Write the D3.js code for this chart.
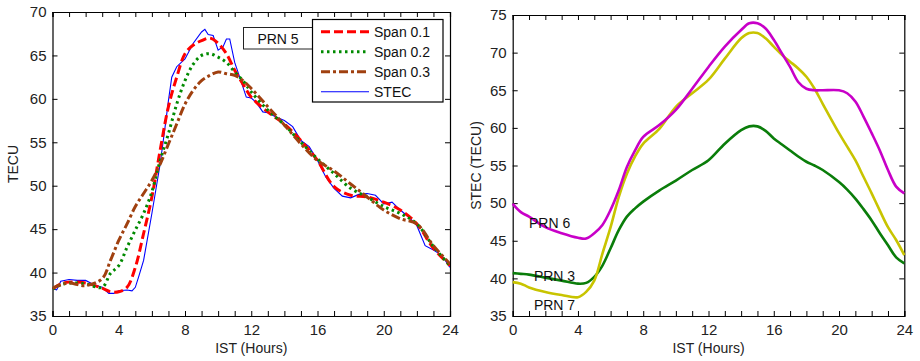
<!DOCTYPE html>
<html><head><meta charset="utf-8">
<script src="https://cdn.jsdelivr.net/npm/d3@7"></script>
<style>
body{margin:0;background:#fff;}
svg{display:block;font-family:"Liberation Sans",Arial,Helvetica,sans-serif;}
</style></head><body>
<svg id="c" width="920" height="361"></svg>
<script>
// ---- Left panel data (PRN 5) ----
const stecH = [0,0.25,0.5,1,1.5,2,2.5,3,3.4,3.7,4,4.5,4.8,5,5.2,5.5,6,6.5,6.8,7,7.2,7.5,8,8.5,9,9.2,9.4,9.7,10,10.3,10.5,10.7,11,11.3,11.7,12,12.3,12.7,13,13.5,14,14.5,15,15.5,16,16.5,17,17.5,18,18.5,19,19.5,20,20.5,21,21.5,22,22.5,23,23.5,24];
const stecV = [38.15,38.0,39.0,39.2,39.1,39.1,38.6,38.3,37.6,37.6,37.9,38.0,37.9,38.3,39.5,41.4,46.8,52.5,56.8,59.8,62.5,63.7,64.6,66.4,67.7,68.0,67.4,67.3,65.6,66.0,66.9,66.9,64.2,62.5,60.2,60.1,59.6,58.5,58.4,57.9,57.5,56.8,55.2,54.5,52.9,51.0,49.7,48.8,48.6,49.0,49.1,48.9,47.9,48.1,47.2,46.4,45.4,43.1,42.6,42.0,40.6];

const spanH = [0,0.5,1,2,3,3.5,4,4.5,5,5.5,6,6.5,7,7.5,8,8.5,9,9.5,10,10.5,11,11.5,12,13,14,15,16,17,18,19,20,21,22,23,24];
const span1 = [38.1,38.7,38.9,38.8,38.2,37.8,37.8,38.3,40.6,44.5,48.7,54.1,59.1,62.5,65.2,66.2,66.7,67.0,66.4,65.2,63.3,61.7,60.2,58.5,57.1,55.2,52.9,49.9,48.9,48.7,48.1,47.2,45.6,42.8,40.8];
const span2 = [38.1,38.6,38.8,38.7,38.3,39.9,40.8,42.9,44.9,46.8,49.3,52.9,56.0,59.4,62.1,64.0,65.0,65.2,64.8,64.2,63.1,62.1,60.8,58.7,57.0,55.0,53.1,51.4,49.7,48.7,47.6,46.8,45.6,43.0,40.8];
const span3 = [38.2,38.6,38.8,38.5,39.3,41.4,43.7,45.6,47.6,49.1,50.6,52.5,54.8,57.1,59.4,61.0,62.1,62.7,63.1,62.9,62.7,62.1,61.2,59.1,57.0,54.8,52.9,51.7,50.2,48.7,47.2,46.2,45.6,43.1,41.0];
const legendLabels = ["Span 0.1","Span 0.2","Span 0.3","STEC"];

// ---- Right panel data ----
const prnH = [0,0.5,1,2,3,4,4.5,5,5.5,6,6.5,7,7.5,8,9,10,11,12,13,14,14.5,15,15.5,16,16.5,17,17.5,18,18.5,19,20,20.5,21,21.5,22,22.5,23,23.5,24];
const prn6 = [49.9,48.8,48.2,46.8,46.0,45.4,45.3,46.0,47.1,49.1,51.7,54.8,57.0,58.8,60.4,62.4,65.2,68.1,70.8,73.0,73.9,73.9,73.2,71.7,69.9,68.1,66.1,65.2,65.0,65.0,65.0,64.6,63.5,61.5,59.3,57.0,54.4,52.2,51.3];
const prn7 = [39.5,39.3,38.8,38.2,37.8,37.5,38.2,39.7,43.3,46.8,50.8,53.9,56.2,57.9,59.9,62.8,64.6,66.4,69.2,71.9,72.6,72.6,71.9,70.8,69.7,68.8,67.9,66.8,65.2,63.2,59.3,57.5,55.7,53.5,51.3,49.0,46.8,45.1,43.1];
const prn3 = [40.7,40.6,40.5,40.1,39.7,39.3,39.4,40.2,41.7,44.0,46.4,48.2,49.3,50.2,51.7,53.0,54.4,55.7,57.9,59.7,60.2,60.2,59.6,58.6,57.8,57.0,56.2,55.5,55.0,54.4,52.8,51.8,50.6,49.2,47.7,46.0,44.4,42.8,42.0];
const prnLabels = ["PRN 6","PRN 3","PRN 7"];

const xTicksMajor = [0,4,8,12,16,20,24];
const xTicksMinor = d3.range(0,25,1);
const yTicksL = [35,40,45,50,55,60,65,70];
const yTicksR = [35,40,45,50,55,60,65,70,75];

const svg = d3.select("#c");

function panel(x0,x1,y0,y1,ydom,yticks,ylabel,ylabelX){
  const x = d3.scaleLinear().domain([0,24]).range([x0,x1]);
  const y = d3.scaleLinear().domain(ydom).range([y1,y0]);
  const g = svg.append("g");
  const gb = g.append("g").attr("transform",`translate(0,${y1})`)
    .call(d3.axisBottom(x).tickValues(xTicksMinor).tickSize(-5).tickPadding(8)
      .tickFormat(d=>xTicksMajor.includes(d)?d:""));
  const gt = g.append("g").attr("transform",`translate(0,${y0})`)
    .call(d3.axisTop(x).tickValues(xTicksMinor).tickSize(-5).tickFormat(""));
  const gl = g.append("g").attr("transform",`translate(${x0},0)`)
    .call(d3.axisLeft(y).tickValues(yticks).tickSize(-5).tickPadding(6));
  const gr = g.append("g").attr("transform",`translate(${x1},0)`)
    .call(d3.axisRight(y).tickValues(yticks).tickSize(-5).tickFormat(""));
  g.selectAll(".domain").attr("stroke","#000").attr("stroke-width",1.2);
  g.selectAll(".tick line").attr("stroke","#000").attr("stroke-width",1);
  g.selectAll(".tick text").attr("font-size",15).attr("fill","#222").attr("font-family","Liberation Sans, Arial, sans-serif");
  g.append("text").attr("x",(x0+x1)/2).attr("y",353).attr("text-anchor","middle")
    .attr("font-size",14).attr("fill","#222").text("IST (Hours)");
  g.append("text").attr("transform",`translate(${ylabelX},${(y0+y1)/2}) rotate(-90)`)
    .attr("text-anchor","middle").attr("font-size",14).attr("fill","#222").text(ylabel);
  return {x,y,g};
}

// Left panel
const L = panel(52.5,450,12,316,[35,70],yTicksL,"TECU",18);
const lineL = (H)=>d3.line().x((d,i)=>L.x(H[i])).y(d=>L.y(d)).curve(d3.curveCatmullRom.alpha(0.5));
const clipL = svg.append("clipPath").attr("id","clipL").append("rect").attr("x",52.5).attr("y",12).attr("width",397.5).attr("height",304);
const styles = [
  {data:span1,color:"#ff0000",w:3,dash:"9,4"},
  {data:span2,color:"#008a00",w:3,dash:"2.5,3.5"},
  {data:span3,color:"#a0400f",w:3,dash:"9,3,3,3"}
];
const gL = svg.append("g").attr("clip-path","url(#clipL)");
gL.append("path").attr("d",d3.line().x((d,i)=>L.x(stecH[i])).y(d=>L.y(d))(stecV))
  .attr("fill","none").attr("stroke","#0000ff").attr("stroke-width",1.1);
styles.forEach(s=>{
  gL.append("path").attr("d",lineL(spanH)(s.data)).attr("fill","none")
    .attr("stroke",s.color).attr("stroke-width",s.w).attr("stroke-dasharray",s.dash);
});

// PRN 5 box
svg.append("rect").attr("x",243.5).attr("y",27.5).attr("width",69).attr("height",21.5)
  .attr("fill","#fff").attr("stroke","#222").attr("stroke-width",1);
svg.append("text").attr("x",278).attr("y",43.5).attr("text-anchor","middle")
  .attr("font-size",14).attr("fill","#111").text("PRN 5");

// Legend
svg.append("rect").attr("x",312.5).attr("y",19.5).attr("width",130.5).attr("height",82.5)
  .attr("fill","#fff").attr("stroke","#000").attr("stroke-width",1.2);
const legStyles = [
  {color:"#ff0000",w:3,dash:"9,4"},
  {color:"#008a00",w:3,dash:"2.5,3.5"},
  {color:"#a0400f",w:3,dash:"9,3,3,3"},
  {color:"#0000ff",w:1.1,dash:null}
];
legendLabels.forEach((lab,i)=>{
  const yy = 31.8 + i*20;
  const ln = svg.append("line").attr("x1",321).attr("x2",369).attr("y1",yy).attr("y2",yy)
    .attr("stroke",legStyles[i].color).attr("stroke-width",legStyles[i].w);
  if(legStyles[i].dash) ln.attr("stroke-dasharray",legStyles[i].dash);
  svg.append("text").attr("x",374).attr("y",yy+5).attr("font-size",14).attr("fill","#111").text(lab);
});

// Right panel
const R = panel(512.7,904.3,15,316,[35,75],yTicksR,"STEC (TECU)",481);
const lineR = d3.line().x((d,i)=>R.x(prnH[i])).y(d=>R.y(d)).curve(d3.curveCatmullRom.alpha(0.5));
const gR = svg.append("g");
[[prn3,"#0a7d0a"],[prn7,"#c8c400"],[prn6,"#c800c8"]].forEach(([d,c])=>{
  gR.append("path").attr("d",lineR(d)).attr("fill","none").attr("stroke",c).attr("stroke-width",2.6);
});
const labPos = [[1,47.3],[1.3,40.3],[1.3,36.5]];
prnLabels.forEach((t,i)=>{
  svg.append("text").attr("x",R.x(labPos[i][0])).attr("y",R.y(labPos[i][1])).attr("dy","0.35em")
    .attr("font-size",14).attr("fill","#111").text(t);
});
</script>
</body></html>
